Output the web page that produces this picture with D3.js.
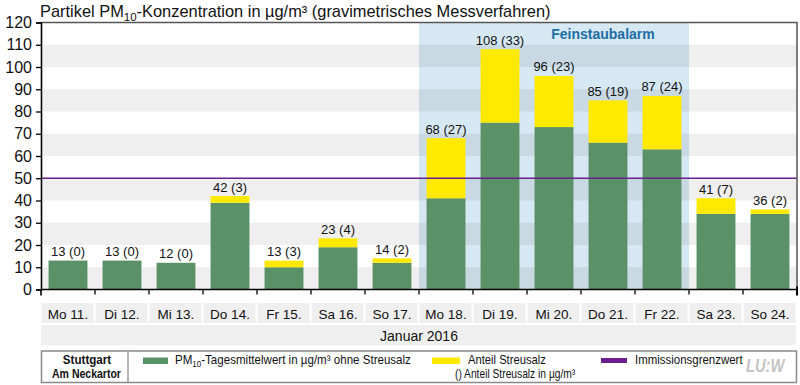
<!DOCTYPE html>
<html><head><meta charset="utf-8">
<script src="https://cdn.jsdelivr.net/npm/d3@7"></script>
<style>
html,body{margin:0;padding:0;background:#fff;}
svg{display:block;font-family:"Liberation Sans",Arial,sans-serif;}
</style></head>
<body><svg id="c" width="800" height="385"></svg>
<script>
const categories = ["Mo 11.","Di 12.","Mi 13.","Do 14.","Fr 15.","Sa 16.","So 17.","Mo 18.","Di 19.","Mi 20.","Do 21.","Fr 22.","Sa 23.","So 24."];
const totals = [13,13,12,42,13,23,14,68,108,96,85,87,41,36];
const salt   = [0,0,0,3,3,4,2,27,33,23,19,24,7,2];
const yTicks = [0,10,20,30,40,50,60,70,80,90,100,110,120];
const limitValue = 50;
const alarmDays = ["Mo 18.","Di 19.","Mi 20.","Do 21.","Fr 22."];
const monthLabel = "Januar 2016";

const colGreen = "#5a9166", colYellow = "#ffe900", colPurple = "#6b1f8e";

const svg = d3.select("#c");
const L = 41, R = 797, T = 22.5, B = 289.5;
const x = d3.scaleBand().domain(categories).range([L, R]).paddingInner(0.28).paddingOuter(0.14);
const xb = d3.scaleBand().domain(categories).range([L, R]);
const y = d3.scaleLinear().domain([0,120]).range([B, T]);

// horizontally condense a text to a target width (the reference uses a condensed face)
function fit(sel, w) {
  const n = sel.node();
  const bb = n.getBBox();
  const s = w / bb.width;
  const anchor = sel.attr("text-anchor") === "middle" ? bb.x + bb.width/2 : bb.x;
  sel.attr("transform", `translate(${anchor},0) scale(${s},1) translate(${-anchor},0)`);
}

// alarm background
svg.append("rect").attr("x", xb(alarmDays[0])).attr("y", T)
  .attr("width", xb(alarmDays[alarmDays.length-1]) + xb.bandwidth() - xb(alarmDays[0]))
  .attr("height", B - T).attr("fill", "#d6e8f3");

// grey stripes
const stripes = yTicks.filter((d,i)=> i%2===0 && d < 120);
svg.append("g").selectAll("rect").data(stripes).join("rect")
  .attr("x", L+2).attr("width", R - L - 2)
  .attr("y", d => y(d+10)).attr("height", d => y(d) - y(d+10))
  .attr("fill", "#000").attr("fill-opacity", 0.062);

svg.append("text").attr("x", xb("Do 21.") + xb.bandwidth()/2 - 5).attr("y", 38.5)
  .attr("text-anchor","middle").attr("font-weight","bold").attr("font-size", 14)
  .attr("fill","#1d6da6").text("Feinstaubalarm");

// bars
const data = categories.map((c,i)=>({c, total: totals[i], salt: salt[i], base: totals[i]-salt[i]}));
svg.append("g").selectAll("rect").data(data).join("rect")
  .attr("x", d => x(d.c)).attr("width", x.bandwidth())
  .attr("y", d => y(d.base)).attr("height", d => y(0) - y(d.base)).attr("fill", colGreen);
svg.append("g").selectAll("rect").data(data.filter(d=>d.salt>0)).join("rect")
  .attr("x", d => x(d.c)).attr("width", x.bandwidth())
  .attr("y", d => y(d.total)).attr("height", d => y(d.base) - y(d.total)).attr("fill", colYellow);
svg.append("g").selectAll("text").data(data).join("text")
  .attr("x", d => x(d.c) + x.bandwidth()/2).attr("y", d => y(d.total) - 4.5)
  .attr("text-anchor","middle").attr("font-size", 13).attr("fill","#111")
  .text(d => d.total + " (" + d.salt + ")");

// limit line
svg.append("line").attr("x1", L).attr("x2", R).attr("y1", y(limitValue)).attr("y2", y(limitValue))
  .attr("stroke", colPurple).attr("stroke-width", 1.5);

// frame top/right
svg.append("path").attr("d", `M${L},${T}H${R}V${B}`).attr("fill","none").attr("stroke","#555").attr("stroke-width",1.5);

// y axis
const yAxis = svg.append("g").attr("transform", `translate(${L},0)`)
  .call(d3.axisLeft(y).tickValues(yTicks).tickSize(5).tickPadding(4));
yAxis.select(".domain").attr("stroke","#000").attr("stroke-width",1.6);
yAxis.selectAll(".tick line").attr("stroke","#000").attr("stroke-width",1.3);
yAxis.selectAll(".tick text").attr("font-size",16).attr("fill","#111").attr("font-family","Liberation Sans, Arial, sans-serif");

// x axis line and ticks at band boundaries
svg.append("line").attr("x1", L).attr("x2", R).attr("y1", B).attr("y2", B).attr("stroke","#000").attr("stroke-width",1.6);
svg.append("g").selectAll("line").data(categories.slice(1)).join("line")
  .attr("x1", d => xb(d)).attr("x2", d => xb(d)).attr("y1", B).attr("y2", B+5)
  .attr("stroke","#000").attr("stroke-width",1.3);
svg.append("line").attr("x1", R).attr("x2", R).attr("y1", B-3).attr("y2", B+6).attr("stroke","#000").attr("stroke-width",2);
svg.append("line").attr("x1", L).attr("x2", L).attr("y1", B).attr("y2", B+6).attr("stroke","#000").attr("stroke-width",1.6);

// x label boxes
svg.append("g").selectAll("rect").data(categories).join("rect")
  .attr("x", d => xb(d)+0.5).attr("width", xb.bandwidth()-2).attr("y", 303).attr("height", 20).attr("fill","#efefef");
svg.append("g").selectAll("text").data(categories).join("text")
  .attr("x", d => xb(d) + xb.bandwidth()/2).attr("y", 318.5).attr("text-anchor","middle")
  .attr("font-size", 13.5).attr("fill","#111").text(d => d);
svg.append("rect").attr("x", L).attr("width", R-L-1).attr("y", 325).attr("height", 20.5).attr("fill","#efefef");
svg.append("text").attr("x", (L+R)/2).attr("y", 340.5).attr("text-anchor","middle").attr("font-size",14).attr("fill","#111").text(monthLabel);

// title
const title = svg.append("text").attr("x", 40).attr("y", 17).attr("font-size", 16.4).attr("fill","#111");
title.append("tspan").text("Partikel PM");
title.append("tspan").attr("font-size", 11.5).attr("dy", 3.5).text("10");
title.append("tspan").attr("dy", -3.5).text("-Konzentration in µg/m³ (gravimetrisches Messverfahren)");

// legend
const lg = svg.append("g");
lg.append("rect").attr("x", 41.5).attr("y", 351).attr("width", 755).attr("height", 31.5)
  .attr("fill","#fff").attr("stroke","#8a8a8a").attr("stroke-width",1.5);
lg.append("line").attr("x1",128).attr("x2",128).attr("y1",351).attr("y2",382.5).attr("stroke","#8a8a8a").attr("stroke-width",1.3);
const s1 = lg.append("text").attr("x",87).attr("y",364).attr("text-anchor","middle").attr("font-weight","bold").attr("font-size",13).attr("fill","#111").text("Stuttgart");
fit(s1, 49);
const s2 = lg.append("text").attr("x",86.5).attr("y",378.5).attr("text-anchor","middle").attr("font-weight","bold").attr("font-size",13).attr("fill","#111").text("Am Neckartor");
fit(s2, 69);

lg.append("rect").attr("x",143).attr("y",357.5).attr("width",25).attr("height",6.5).attr("fill",colGreen);
const t1 = lg.append("text").attr("x",175).attr("y",364).attr("font-size",13).attr("fill","#111");
t1.append("tspan").text("PM");
t1.append("tspan").attr("font-size",9).attr("dy",3).text("10");
t1.append("tspan").attr("dy",-3).text("-Tagesmittelwert in µg/m³ ohne Streusalz");
fit(t1, 236);

lg.append("rect").attr("x",432).attr("y",357.5).attr("width",28).attr("height",6.5).attr("fill",colYellow);
fit(lg.append("text").attr("x",468).attr("y",364).attr("font-size",13).attr("fill","#111").text("Anteil Streusalz"), 78);
fit(lg.append("text").attr("x",455).attr("y",378.5).attr("font-size",13).attr("fill","#111").text("() Anteil Streusalz in µg/m³"), 121);

lg.append("rect").attr("x",601).attr("y",358).attr("width",26).attr("height",5).attr("fill",colPurple);
fit(lg.append("text").attr("x",635).attr("y",364).attr("font-size",13).attr("fill","#111").text("Immissionsgrenzwert"), 108);

const logo = svg.append("text").attr("x",765).attr("y",372).attr("text-anchor","middle").attr("font-size",18).attr("font-weight","bold")
  .attr("font-style","italic").attr("fill","#c4c4c4").text("LU:W");
fit(logo, 40);
</script></body></html>
